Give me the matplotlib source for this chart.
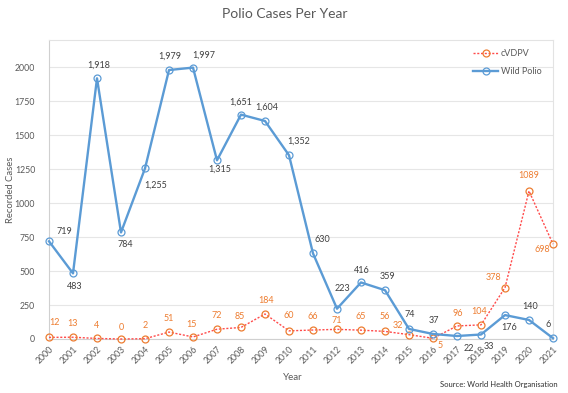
import matplotlib
matplotlib.use("Agg")
import matplotlib.pyplot as plt

plt.rcParams['font.family'] = ['Lato', 'DejaVu Sans']

years = list(range(2000, 2022))
wild_polio = [719, 483, 1918, 784, 1255, 1979, 1997, 1315, 1651, 1604, 1352,
              630, 223, 416, 359, 74, 37, 22, 33, 176, 140, 6]
cvdpv = [12, 13, 4, 0, 2, 51, 15, 72, 85, 184, 60, 66, 71, 65, 56, 32, 5,
         96, 104, 378, 1089, 698]
y_ticks = [0, 250, 500, 750, 1000, 1250, 1500, 1750, 2000]

# label offsets in pixels (dx, dy up)
wild_off = [(15, 10), (2, -13), (2, 13), (4, -12), (11, -17), (1, 14), (11, 12),
            (3, -9), (0, 12), (2, 14), (10, 14), (9, 14), (5, 20), (1, 12),
            (2, 14), (1, 14), (1, 13), (12, -12), (8, -12), (4, -12), (1, 13), (-5, 14)]
cv_off = [(6, 15), (0, 14), (0, 13), (0, 12), (0, 13), (0, 14), (-2, 12),
          (0, 14), (-1, 11), (1, 13), (0, 15), (0, 14), (0, 9), (0, 14),
          (0, 15), (-11, 9), (7, -7), (1, 12), (-2, 13), (-12, 10), (0, 15), (-11, -5)]

BLUE = '#5B9BD5'
ORANGE = '#ED7D31'
RED = '#FF4B4B'
GRAY = '#595959'

fig = plt.figure(figsize=(5.68, 3.93), dpi=100)
ax = fig.add_axes([49/568, 1-339/393, (553-49)/568, (339-40)/393])

ax.set_xlim(2000, 2021)
ax.set_ylim(0, 2200)
ax.set_yticks(y_ticks)
ax.set_xticks(years)
ax.set_xticklabels([str(y) for y in years], rotation=45, ha='right',
                   rotation_mode='anchor', fontsize=6.3, color=GRAY)
ax.tick_params(axis='x', length=0, pad=4)
ax.tick_params(axis='y', length=0, pad=10, labelsize=6.3, labelcolor=GRAY)
ax.grid(axis='y', color='#E6E6E6', lw=0.8)
ax.set_axisbelow(True)
for s in ['top', 'right']:
    ax.spines[s].set_color('#E3E3E3')
    ax.spines[s].set_linewidth(0.8)
for s in ['left', 'bottom']:
    ax.spines[s].set_color('#D0D0D0')
    ax.spines[s].set_linewidth(0.8)

ax.plot(years, cvdpv, color=RED, lw=1.0, ls=(0, (1.5, 1.2)), marker='o',
        markersize=5, mfc='none', mec=ORANGE, mew=0.9, label='cVDPV', clip_on=False, zorder=3)
ax.plot(years, wild_polio, color=BLUE, lw=1.7, marker='o', markersize=5,
        mfc='none', mec=BLUE, mew=0.9, label='Wild Polio', clip_on=False, zorder=4)

for x, v, (dx, dy) in zip(years, wild_polio, wild_off):
    ax.annotate(f"{v:,}", (x, v), xytext=(dx, dy), textcoords='offset pixels',
                ha='center', va='center', fontsize=6.5, color='#404040')
for x, v, (dx, dy) in zip(years, cvdpv, cv_off):
    ax.annotate(f"{v}", (x, v), xytext=(dx, dy), textcoords='offset pixels',
                ha='center', va='center', fontsize=6.5, color=ORANGE)

fig.text(11/568, 1-189.5/393, 'Recorded Cases', fontsize=6.8, color=GRAY,
         rotation=90, ha='center', va='center')
fig.text(293/568, 1-377/393, 'Year', fontsize=7, color=GRAY, ha='center', va='center')
fig.text(285/568, 1-14/393, 'Polio Cases Per Year', fontsize=10, color=GRAY,
         ha='center', va='center')
fig.text(558/568, 1-385/393, 'Source: World Health Organisation', fontsize=5.5,
         color='#303030', ha='right', va='center')

leg = ax.legend(loc='upper left', bbox_to_anchor=(473/568, 1-49/393),
                bbox_transform=fig.transFigure, frameon=False, fontsize=6.5,
                handlelength=2.8, handletextpad=0.3, labelspacing=1.0,
                borderpad=0, borderaxespad=0)
for t in leg.get_texts():
    t.set_color(GRAY)

fig.savefig('out.png', dpi=100)
